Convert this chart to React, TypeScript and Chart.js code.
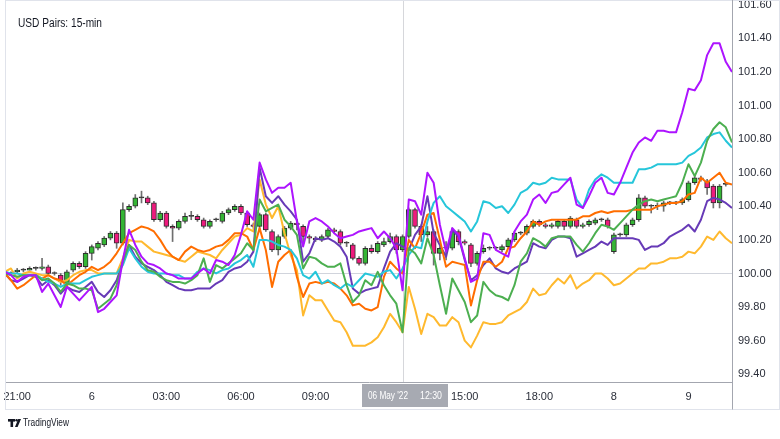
import React, { useEffect, useRef } from 'react';
import { Chart, registerables } from 'chart.js';

Chart.register(...registerables);

// ---- chart data ----
const TITLE = 'USD Pairs: 15-min';
const LINE_START = -2; // bar index of the first line point (index 0 = 21:00)
const CANDLE_START = -1; // bar index of the first candle

const purpleLine = [
  100.01, 99.99, 99.95, 99.98, 99.99, 99.99, 99.89, 99.94, 99.87, 99.80, 99.92, 99.88,
  99.84, 99.88, 99.92, 99.77, 99.79, 99.83, 99.87, 100.08, 100.26, 100.17,
  100.10, 100.06, 100.05, 100.03, 100.00, 99.99, 99.97, 99.97, 99.97, 100.00,
  100.03, 100.00, 100.08, 100.07, 100.05, 100.11, 100.23, 100.37, 100.32, 100.66,
  100.56, 100.48, 100.51, 100.51, 100.54, 100.31, 100.16, 100.31, 100.33, 100.31,
  100.28, 100.24, 100.21, 100.22, 100.23, 100.25, 100.26, 100.27, 100.21, 100.25,
  100.21, 100.15, 99.90, 100.44, 100.43, 100.35, 100.60, 100.54, 100.29, 100.13,
  100.27, 100.23, 100.09, 99.95, 99.97, 100.24, 100.23, 100.14, 100.12, 100.10,
  100.25, 100.31, 100.35, 100.44, 100.47, 100.42, 100.48, 100.49, 100.53, 100.57,
  100.41, 100.39, 100.46, 100.54, 100.57, 100.48, 100.47, 100.54, 100.63, 100.72,
  100.78, 100.81, 100.79, 100.85, 100.85, 100.84, 100.84, 100.96, 101.10, 101.09,
  101.15, 101.30, 101.37, 101.37, 101.26, 101.20,
];

const cyanLine = [
  100.01, 100.00, 100.00, 99.99, 99.99, 99.99, 99.97, 99.95, 99.94, 99.92, 99.94, 99.94,
  99.94, 99.96, 99.98, 99.99, 100.00, 100.00, 100.00, 100.05, 100.15, 100.09,
  100.04, 100.01, 100.00, 100.00, 100.00, 99.99, 99.99, 99.97, 99.97, 100.01,
  100.03, 100.02, 100.00, 100.02, 100.03, 100.06, 100.08, 100.11, 100.04, 100.20,
  100.20, 100.19, 100.17, 100.16, 100.14, 100.09, 99.99, 99.97, 100.01, 99.94,
  99.96, 99.93, 99.91, 99.94, 99.92, 99.96, 100.00, 99.99, 99.98, 100.01,
  100.02, 99.97, 100.03, 100.11, 100.16, 100.15, 100.31, 100.42, 100.46, 100.40,
  100.37, 100.34, 100.31, 100.25, 100.31, 100.43, 100.42, 100.39, 100.40, 100.36,
  100.41, 100.48, 100.50, 100.54, 100.53, 100.54, 100.57, 100.56, 100.56, 100.56,
  100.44, 100.39, 100.50, 100.56, 100.59, 100.57, 100.54, 100.54, 100.54, 100.54,
  100.62, 100.62, 100.63, 100.65, 100.65, 100.65, 100.65, 100.66, 100.70, 100.72,
  100.75, 100.81, 100.83, 100.84, 100.79, 100.75,
];

const greenLine = [
  100.00, 99.99, 99.98, 99.99, 99.99, 99.99, 99.96, 99.97, 99.94, 99.89, 99.94, 99.93,
  99.91, 99.91, 99.90, 99.79, 99.82, 99.85, 99.93, 100.07, 100.17, 100.14,
  100.07, 100.02, 100.01, 99.98, 99.96, 99.95, 99.95, 99.94, 99.96, 99.99,
  100.09, 99.95, 100.05, 100.03, 100.06, 100.09, 100.12, 100.18, 100.14, 100.44,
  100.37, 100.39, 100.41, 100.32, 100.28, 100.23, 100.03, 100.10, 100.09, 100.06,
  100.04, 100.04, 100.06, 99.93, 99.83, 99.87, 99.96, 99.93, 100.01, 99.93,
  99.87, 99.82, 99.65, 100.15, 100.12, 100.06, 100.21, 100.11, 99.93, 99.76,
  99.97, 99.90, 99.83, 99.71, 99.75, 99.95, 99.90, 99.87, 99.86, 99.84,
  99.93, 100.07, 100.12, 100.21, 100.19, 100.16, 100.21, 100.22, 100.22, 100.22,
  100.17, 100.13, 100.18, 100.24, 100.29, 100.28, 100.26, 100.30, 100.34, 100.38,
  100.41, 100.43, 100.44, 100.43, 100.44, 100.45, 100.46, 100.54, 100.65, 100.58,
  100.66, 100.79, 100.86, 100.90, 100.87, 100.78,
];

const orangeLine = [
  100.00, 99.96, 99.91, 99.93, 99.96, 99.99, 99.97, 99.99, 99.97, 99.96, 99.93, 99.96,
  99.99, 100.01, 100.04, 100.02, 100.04, 100.07, 100.12, 100.18, 100.24, 100.26,
  100.28, 100.27, 100.25, 100.20, 100.14, 100.10, 100.08, 100.13, 100.16, 100.14,
  100.13, 100.14, 100.16, 100.17, 100.20, 100.24, 100.24, 100.22, 100.14, 100.27,
  100.14, 99.92, 100.07, 100.11, 100.14, 99.98, 99.86, 99.94, 99.95, 99.94,
  99.95, 99.94, 99.91, 99.87, 99.81, 99.82, 99.79, 99.78, 99.80, 99.98,
  100.07, 100.03, 100.00, 100.20, 100.15, 100.24, 100.35, 100.36, 100.20, 100.04,
  100.07, 100.06, 100.05, 99.81, 99.96, 100.07, 100.07, 100.04, 100.07, 100.15,
  100.16, 100.21, 100.25, 100.31, 100.29, 100.31, 100.32, 100.32, 100.32, 100.32,
  100.32, 100.34, 100.34, 100.36, 100.37, 100.36, 100.37, 100.37, 100.37, 100.38,
  100.38, 100.38, 100.38, 100.40, 100.41, 100.42, 100.42, 100.43, 100.47, 100.48,
  100.57, 100.54, 100.57, 100.60, 100.54, 100.53,
];

const indigoLine = [
  100.00, 99.96, 99.95, 99.97, 99.99, 99.98, 99.93, 99.96, 99.93, 99.88, 99.92, 99.90,
  99.89, 99.92, 99.95, 99.89, 99.86, 99.90, 99.96, 100.07, 100.17, 100.10,
  100.06, 100.04, 100.02, 99.99, 99.95, 99.93, 99.91, 99.90, 99.90, 99.91,
  99.91, 99.91, 99.94, 99.96, 100.01, 100.03, 100.04, 100.07, 100.13, 100.63,
  100.46, 100.42, 100.46, 100.41, 100.37, 100.32, 100.07, 100.12, 100.21, 100.20,
  100.21, 100.19, 100.16, 100.10, 99.91, 99.88, 99.90, 99.91, 99.92, 100.03,
  100.13, 100.18, 100.16, 100.14, 100.23, 100.28, 100.46, 100.24, 100.17, 100.10,
  100.26, 100.22, 100.08, 99.96, 99.99, 100.05, 100.09, 100.03, 100.01, 100.00,
  100.03, 100.05, 100.07, 100.18, 100.16, 100.15, 100.20, 100.22, 100.22, 100.21,
  100.10, 100.12, 100.14, 100.16, 100.19, 100.17, 100.21, 100.21, 100.21, 100.21,
  100.20, 100.14, 100.16, 100.16, 100.18, 100.22, 100.24, 100.26, 100.29, 100.25,
  100.32, 100.43, 100.45, 100.44, 100.42, 100.39,
];

const yellowLine = [
  100.01, 100.03, 99.97, 100.00, 100.01, 100.00, 99.99, 99.99, 99.97, 99.95, 99.96, 99.99,
  100.01, 100.02, 100.02, 100.00, 100.00, 100.00, 100.00, 100.09, 100.20, 100.19,
  100.19, 100.16, 100.13, 100.12, 100.11, 100.10, 100.08, 100.07, 100.10, 100.13,
  100.12, 100.11, 100.09, 100.14, 100.18, 100.22, 100.23, 100.27, 100.25, 100.56,
  100.41, 100.33, 100.40, 100.24, 100.11, 100.02, 99.75, 99.87, 99.84, 99.84,
  99.78, 99.72, 99.71, 99.65, 99.57, 99.57, 99.57, 99.59, 99.62, 99.68,
  99.76, 99.71, 99.65, 99.92, 99.79, 99.64, 99.76, 99.74, 99.69, 99.69,
  99.74, 99.71, 99.60, 99.56, 99.63, 99.71, 99.70, 99.70, 99.71, 99.75,
  99.77, 99.79, 99.83, 99.91, 99.87, 99.88, 99.93, 99.97, 99.94, 99.99,
  99.91, 99.94, 99.96, 100.00, 100.00, 99.97, 99.93, 99.94, 99.97, 100.00,
  100.03, 100.03, 100.06, 100.06, 100.07, 100.09, 100.09, 100.10, 100.13, 100.12,
  100.16, 100.22, 100.20, 100.25, 100.21, 100.18,
];

const opens = [
  100.00, 100.01, 100.02, 100.02, 100.03, 100.03, 100.04, 100.00, 99.99, 99.94,
  100.02, 100.06, 100.04, 100.12, 100.15, 100.17, 100.21, 100.24, 100.18, 100.38,
  100.40, 100.45, 100.45, 100.42, 100.32, 100.36, 100.28, 100.27, 100.31, 100.34,
  100.34, 100.32, 100.28, 100.32, 100.31, 100.36, 100.38, 100.40, 100.36, 100.29,
  100.28, 100.35, 100.25, 100.14, 100.22, 100.27, 100.30, 100.28, 100.22, 100.21,
  100.20, 100.22, 100.26, 100.25, 100.18, 100.17, 100.09, 100.06, 100.15, 100.13,
  100.17, 100.19, 100.22, 100.14, 100.22, 100.38, 100.28, 100.23, 100.25, 100.12,
  100.15, 100.15, 100.25, 100.19, 100.17, 100.06, 100.13, 100.15, 100.15, 100.14,
  100.16, 100.20, 100.24, 100.24, 100.28, 100.31, 100.29, 100.28, 100.28, 100.31,
  100.28, 100.32, 100.28, 100.29, 100.30, 100.32, 100.32, 100.13, 100.23, 100.23,
  100.29, 100.32, 100.45, 100.40, 100.40, 100.40, 100.42, 100.42, 100.42, 100.44,
  100.54, 100.57, 100.55, 100.52, 100.42, 100.53,
];

const closes = [
  100.00, 100.02, 100.02, 100.03, 100.03, 100.04, 100.00, 100.00, 99.95, 100.01,
  100.06, 100.04, 100.12, 100.16, 100.18, 100.21, 100.24, 100.18, 100.38, 100.40,
  100.45, 100.45, 100.42, 100.32, 100.36, 100.28, 100.27, 100.31, 100.34, 100.34,
  100.32, 100.28, 100.31, 100.32, 100.36, 100.38, 100.40, 100.36, 100.29, 100.28,
  100.35, 100.26, 100.14, 100.22, 100.27, 100.30, 100.29, 100.22, 100.21, 100.20,
  100.22, 100.26, 100.25, 100.18, 100.18, 100.09, 100.06, 100.15, 100.13, 100.18,
  100.19, 100.22, 100.14, 100.22, 100.38, 100.28, 100.23, 100.25, 100.12, 100.15,
  100.15, 100.25, 100.19, 100.18, 100.06, 100.12, 100.15, 100.15, 100.15, 100.16,
  100.20, 100.24, 100.24, 100.28, 100.31, 100.29, 100.28, 100.29, 100.31, 100.28,
  100.33, 100.28, 100.29, 100.31, 100.32, 100.32, 100.28, 100.23, 100.23, 100.29,
  100.32, 100.45, 100.40, 100.40, 100.40, 100.42, 100.42, 100.42, 100.44, 100.54,
  100.57, 100.56, 100.51, 100.42, 100.52, 100.53,
];

const highs = [
  100.01, 100.03, 100.03, 100.04, 100.04, 100.09, 100.05, 100.01, 100.00, 100.02,
  100.07, 100.07, 100.13, 100.17, 100.19, 100.22, 100.25, 100.25, 100.42, 100.41,
  100.47, 100.49, 100.46, 100.43, 100.37, 100.37, 100.29, 100.32, 100.36, 100.37,
  100.35, 100.33, 100.32, 100.33, 100.37, 100.39, 100.41, 100.41, 100.37, 100.30,
  100.36, 100.36, 100.26, 100.23, 100.28, 100.31, 100.32, 100.29, 100.23, 100.22,
  100.23, 100.27, 100.27, 100.26, 100.19, 100.18, 100.10, 100.16, 100.17, 100.19,
  100.21, 100.24, 100.23, 100.23, 100.39, 100.39, 100.29, 100.28, 100.26, 100.16,
  100.19, 100.27, 100.26, 100.20, 100.18, 100.13, 100.17, 100.16, 100.16, 100.17,
  100.21, 100.25, 100.25, 100.29, 100.32, 100.32, 100.30, 100.30, 100.32, 100.32,
  100.34, 100.33, 100.30, 100.32, 100.33, 100.33, 100.33, 100.24, 100.24, 100.30,
  100.33, 100.47, 100.46, 100.41, 100.42, 100.43, 100.43, 100.43, 100.45, 100.55,
  100.58, 100.58, 100.56, 100.53, 100.53, 100.54,
];

const lows = [
  99.99, 100.00, 100.01, 100.02, 100.02, 100.02, 99.99, 99.99, 99.93, 99.93,
  100.01, 100.03, 100.03, 100.08, 100.14, 100.16, 100.20, 100.15, 100.17, 100.37,
  100.39, 100.42, 100.41, 100.31, 100.31, 100.27, 100.19, 100.26, 100.30, 100.32,
  100.31, 100.27, 100.27, 100.31, 100.30, 100.35, 100.37, 100.35, 100.28, 100.27,
  100.26, 100.25, 100.13, 100.11, 100.21, 100.26, 100.26, 100.19, 100.18, 100.19,
  100.19, 100.21, 100.24, 100.17, 100.16, 100.08, 100.05, 100.05, 100.12, 100.12,
  100.16, 100.18, 100.12, 100.13, 100.21, 100.27, 100.19, 100.22, 100.05, 100.08,
  100.08, 100.14, 100.17, 100.17, 100.04, 100.05, 100.12, 100.14, 100.14, 100.13,
  100.15, 100.19, 100.23, 100.23, 100.27, 100.28, 100.27, 100.27, 100.27, 100.26,
  100.27, 100.27, 100.27, 100.28, 100.29, 100.31, 100.27, 100.12, 100.22, 100.22,
  100.28, 100.31, 100.39, 100.36, 100.38, 100.37, 100.41, 100.41, 100.41, 100.43,
  100.53, 100.55, 100.47, 100.39, 100.39, 100.52,
];

const xTickValues = [0, 12, 24, 36, 48, 72, 84, 96, 108];
const xTickLabels = ['21:00', '6', '03:00', '06:00', '09:00', '15:00', '18:00', '8', '9'];
const yTickValues = [99.4, 99.6, 99.8, 100, 100.2, 100.4, 100.6, 100.8, 101, 101.2, 101.4, 101.6];
const BASELINE = 100;
const CROSSHAIR_INDEX = 62;
const CROSSHAIR_DATE = "06 May '22";
const CROSSHAIR_TIME = '12:30';

const FONT = '"Liberation Sans", Arial, sans-serif';
const UP = '#35b535';
const DOWN = '#ee1a7d';

const lineSeries = [
  { label: 'purple', data: purpleLine, color: '#ad14ff' },
  { label: 'green', data: greenLine, color: '#4caf50' },
  { label: 'cyan', data: cyanLine, color: '#26c6da' },
  { label: 'orange', data: orangeLine, color: '#ff6d00' },
  { label: 'indigo', data: indigoLine, color: '#673ab7' },
  { label: 'yellow', data: yellowLine, color: '#ffb92e' },
];

// draw text squeezed horizontally to a target width (the reference uses a narrow face)
function fitText(ctx: CanvasRenderingContext2D, text: string, x: number, y: number, w: number) {
  const natural = ctx.measureText(text).width;
  const sx = natural > 0 ? Math.min(1, w / natural) : 1;
  ctx.save();
  ctx.translate(x, y);
  ctx.scale(sx, 1);
  ctx.textAlign = 'left';
  ctx.fillText(text, 0, 0);
  ctx.restore();
}

const overlayPlugin = {
  id: 'overlay',
  beforeDatasetsDraw(chart: any) {
    const { ctx, chartArea, scales } = chart;
    const x = Math.round(scales.x.getPixelForValue(CROSSHAIR_INDEX)) + 0.5;
    ctx.save();
    ctx.strokeStyle = '#d6d7db';
    ctx.lineWidth = 1;
    ctx.beginPath();
    ctx.moveTo(x, chartArea.top);
    ctx.lineTo(x, chartArea.bottom);
    ctx.stroke();
    ctx.restore();
  },
  afterDraw(chart: any) {
    const { ctx, chartArea, scales, width } = chart;
    ctx.save();
    // outer frame
    ctx.strokeStyle = '#e0e3eb';
    ctx.lineWidth = 1;
    ctx.strokeRect(chartArea.left - 0.5, 0.5, width - chartArea.left, 409);
    // axis line extension below the time axis
    ctx.strokeStyle = '#a3a6af';
    ctx.beginPath();
    ctx.moveTo(chartArea.right + 0.5, 0);
    ctx.lineTo(chartArea.right + 0.5, 409.5);
    ctx.stroke();
    // title
    ctx.fillStyle = '#131722';
    ctx.font = `12.5px ${FONT}`;
    ctx.textBaseline = 'middle';
    fitText(ctx, TITLE, chartArea.left + 12, 24, 84);
    // crosshair label box
    const cx = scales.x.getPixelForValue(CROSSHAIR_INDEX) + 2;
    const bw = 86;
    const bx = Math.round(cx - bw / 2);
    const by = chartArea.bottom + 2;
    ctx.fillStyle = '#a7aab2';
    ctx.fillRect(bx, by, bw, 23);
    ctx.fillStyle = '#ffffff';
    ctx.font = `11px ${FONT}`;
    ctx.textBaseline = 'middle';
    fitText(ctx, CROSSHAIR_DATE, bx + 6, by + 12, 40);
    fitText(ctx, CROSSHAIR_TIME, bx + bw - 28, by + 12, 22);
    // TradingView logo
    ctx.fillStyle = '#131722';
    ctx.fillRect(8, 419, 7, 2.6);
    ctx.fillRect(10.5, 419, 2.6, 8);
    ctx.beginPath();
    ctx.arc(16.6, 420.3, 1.3, 0, Math.PI * 2);
    ctx.fill();
    ctx.beginPath();
    ctx.moveTo(18.2, 419);
    ctx.lineTo(21, 419);
    ctx.lineTo(17.6, 427);
    ctx.lineTo(15, 427);
    ctx.closePath();
    ctx.fill();
    ctx.font = `10.5px ${FONT}`;
    ctx.textBaseline = 'middle';
    fitText(ctx, 'TradingView', 23, 423.5, 46);
    ctx.restore();
  },
};

export default function App() {
  const canvasRef = useRef<HTMLCanvasElement>(null);

  useEffect(() => {
    const canvas = canvasRef.current;
    if (!canvas) return;

    const bodies = opens.map((o, k) => ({
      x: CANDLE_START + k,
      y: [Math.min(o, closes[k]), Math.max(o, closes[k])],
    }));
    const wicks = highs.map((h, k) => ({ x: CANDLE_START + k, y: [lows[k], h] }));
    const bodyColors = opens.map((o, k) =>
      closes[k] > o ? UP : closes[k] < o ? DOWN : '#333333'
    );

    const lineDatasets = lineSeries.map((s, n) => ({
      type: 'line' as const,
      label: s.label,
      data: s.data.map((y, k) => ({ x: LINE_START + k, y })),
      borderColor: s.color,
      backgroundColor: s.color,
      borderWidth: 2,
      pointRadius: 0,
      tension: 0,
      fill: false,
      borderJoinStyle: 'round' as const,
      order: 1 + n * 0.01,
    }));

    const chart = new Chart(canvas, {
      type: 'bar',
      data: {
        datasets: [
          ...lineDatasets,
          {
            type: 'bar',
            label: 'bodies',
            data: bodies as any,
            backgroundColor: bodyColors,
            borderColor: '#2e2e2e',
            borderWidth: 1,
            borderSkipped: false,
            barThickness: 5,
            minBarLength: 1,
            grouped: false,
            order: 5,
          } as any,
          {
            type: 'bar',
            label: 'wicks',
            data: wicks as any,
            backgroundColor: '#6f6f6f',
            borderWidth: 0,
            barThickness: 1,
            grouped: false,
            order: 6,
          } as any,
        ],
      },
      options: {
        animation: false,
        responsive: false,
        maintainAspectRatio: false,
        layout: { padding: { left: 6, top: 1, right: 0, bottom: 30 } },
        plugins: {
          legend: { display: false },
          tooltip: { enabled: false },
          title: { display: false },
        },
        scales: {
          x: {
            type: 'linear',
            min: -1.8,
            max: 115,
            offset: false,
            afterBuildTicks: (s: any) => {
              s.ticks = xTickValues.map((v) => ({ value: v }));
            },
            afterFit: (s: any) => {
              s.height = 27;
              s.paddingLeft = 0;
              s.paddingRight = 0;
            },
            ticks: {
              autoSkip: false,
              maxRotation: 0,
              minRotation: 0,
              padding: 8,
              color: '#2a2e39',
              font: { family: FONT, size: 11 },
              callback: (v: any) => {
                const idx = xTickValues.indexOf(Number(v));
                return idx >= 0 ? xTickLabels[idx] : '';
              },
            },
            grid: { display: false, drawTicks: false },
            border: { display: true, color: '#a3a6af', width: 1 },
          },
          y: {
            type: 'linear',
            position: 'right',
            min: 99.354,
            max: 101.622,
            afterBuildTicks: (s: any) => {
              s.ticks = yTickValues.map((v) => ({ value: v }));
            },
            afterFit: (s: any) => {
              s.width = 48;
              s.paddingTop = 0;
              s.paddingBottom = 0;
            },
            ticks: {
              padding: 6,
              color: '#2a2e39',
              font: { family: FONT, size: 11 },
              callback: (v: any) => Number(v).toFixed(2),
            },
            grid: {
              drawTicks: false,
              lineWidth: 1,
              color: (c: any) =>
                c.tick && Math.abs(c.tick.value - BASELINE) < 1e-9 ? '#d1d4dc' : 'rgba(0,0,0,0)',
            },
            border: { display: true, color: '#a3a6af', width: 1 },
          },
        },
      } as any,
      plugins: [overlayPlugin],
    });

    return () => chart.destroy();
  }, []);

  return (
    <div style={{ position: 'absolute', left: 0, top: 0, width: 780, height: 439, background: '#ffffff' }}>
      <canvas ref={canvasRef} width={780} height={439} style={{ display: 'block' }} />
    </div>
  );
}
